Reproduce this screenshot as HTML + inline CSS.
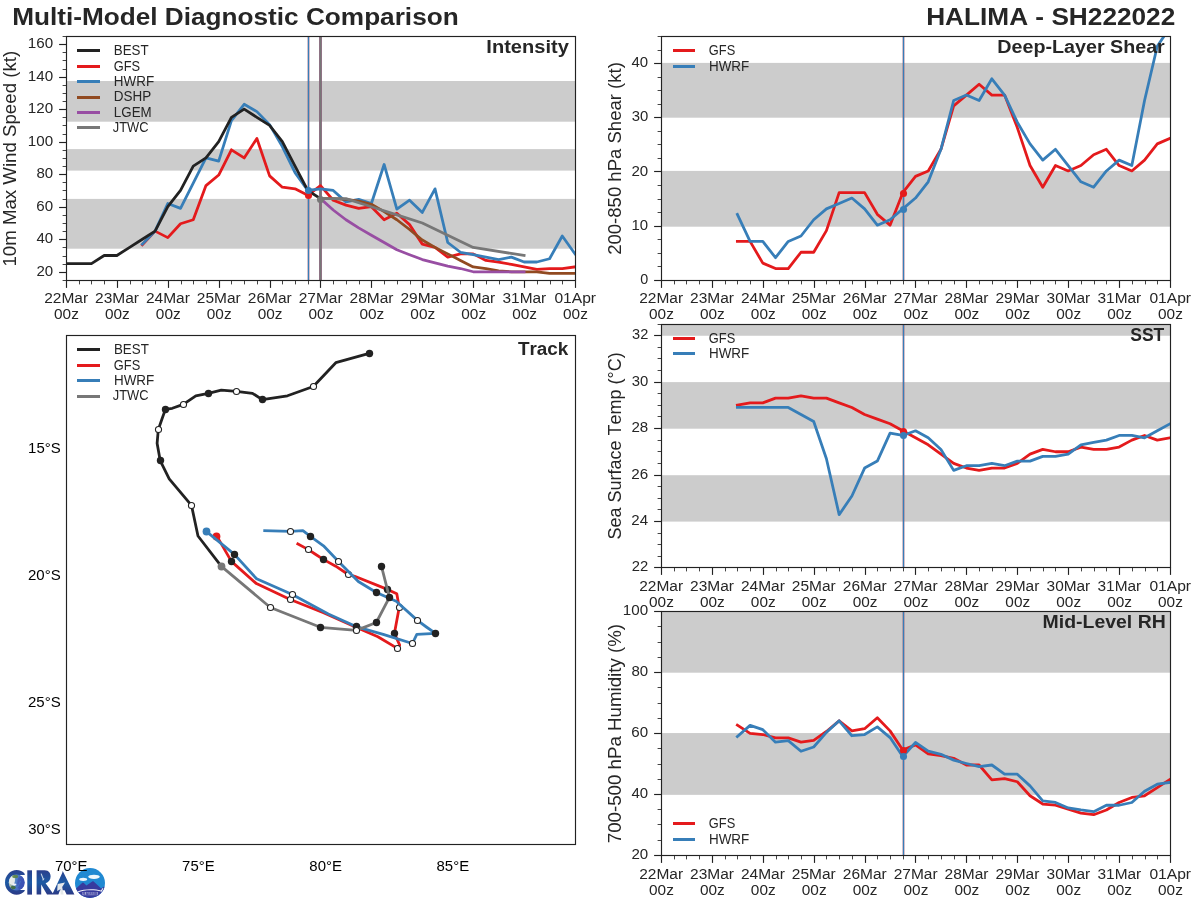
<!DOCTYPE html>
<html><head><meta charset="utf-8"><title>Multi-Model Diagnostic Comparison</title>
<style>html,body{margin:0;padding:0;background:#fff;}svg{display:block;will-change:transform;}text{font-family:"Liberation Sans",sans-serif;font-kerning:none;}</style>
</head><body>
<svg width="1200" height="900" viewBox="0 0 1200 900" font-family="'Liberation Sans', sans-serif">
<rect x="0" y="0" width="1200" height="900" fill="#ffffff"/>
<defs><linearGradient id="lgC" x1="0" y1="0" x2="0" y2="1"><stop offset="0" stop-color="#2a3f8c"/><stop offset="0.5" stop-color="#1c5aa4"/><stop offset="1" stop-color="#2b3a86"/></linearGradient><linearGradient id="lgG" x1="0" y1="0" x2="1" y2="0.25"><stop offset="0" stop-color="#e8ecec"/><stop offset="0.30" stop-color="#9fb59f"/><stop offset="0.52" stop-color="#4f7fc8"/><stop offset="1" stop-color="#3a55b5"/></linearGradient><clipPath id="cpR"><circle cx="90" cy="883" r="15"/></clipPath><clipPath id="cpG"><circle cx="16.7" cy="882.5" r="8.0"/></clipPath></defs>
<g id="logo">
<clipPath id="cpC"><path d="M0 860 H24.7 V874.9 H20 V889.9 H24.7 V900 H0 Z"/></clipPath>
<ellipse cx="16.6" cy="882.4" rx="11.6" ry="12.3" fill="url(#lgC)" clip-path="url(#cpC)"/>
<circle cx="16.7" cy="882.5" r="8.0" fill="url(#lgG)"/>
<g clip-path="url(#cpG)"><ellipse cx="12.0" cy="880.0" rx="3.0" ry="5.0" fill="#eef1ef" opacity="0.9"/><ellipse cx="15.2" cy="876.4" rx="3.0" ry="1.7" fill="#5d8446" opacity="0.9"/><ellipse cx="13.2" cy="887.6" rx="2.6" ry="1.8" fill="#3f6b3c" opacity="0.9"/><ellipse cx="14.4" cy="884.6" rx="2.0" ry="1.1" fill="#ffffff" opacity="0.9"/><path d="M17.6 886.5 L20.2 880.8 L20.9 881.2 L18.3 887.0 Z" fill="#55b4ea" opacity="0.8"/><ellipse cx="21.0" cy="883" rx="3.8" ry="7.0" fill="#3b4db2" opacity="0.6"/></g>
<rect x="27.3" y="870.3" width="4.7" height="24.3" fill="url(#lgC)"/>
<path d="M36.6 870.3 L44.5 870.3 C49.2 870.3 50.6 873.4 50.6 876.6 C50.6 880 48.6 882.3 45.6 883.2 L52.8 893.2 L62.2 873.0 L62.75 871.0 L74.4 894.4 L66.6 894.4 L64.6 890.2 L60.0 890.2 L58.4 894.4 L50.6 894.4 L47.0 894.4 L41.2 884.6 L41.2 894.5 L36.6 894.5 Z" fill="url(#lgC)"/>
<path d="M40.6 873.8 L41.6 873.5 L43.6 878.4 L44.6 878.6 L43.6 880.3 L42.4 880.4 L42.6 879.0 Z" fill="#d9e6ee" opacity="0.9"/>
<path d="M57.6 884.0 L65.0 882.4 L62.2 887.0 L63.6 894.4 L60.6 894.4 L60.4 889.2 L57.2 891.0 Z" fill="#e4e8ea"/>
<circle cx="90" cy="883" r="15" fill="#2089d2"/>
<g clip-path="url(#cpR)"><path d="M74 890.5 L82.6 882.6 L83.6 882.8 L86.4 885.6 L92.6 881.2 L93.4 881.2 L101.2 888.4 L104.2 886.4 L106 889 L106 900 L74 900 Z" fill="#373b9e"/><path d="M77.4 891.6 C84 888.6 95 888.6 101.0 890.6 L102.6 888.0 L103.4 888.4 L101.6 891.8 C95 889.8 84 889.8 78.0 892.4 Z" fill="#ffffff" opacity="0.95"/><rect x="82.2" y="892.0" width="15.6" height="3.2" fill="#ffffff" opacity="0.55"/></g>
<ellipse cx="83.2" cy="879.3" rx="4.0" ry="1.6" fill="#ffffff" opacity="0.93"/>
<ellipse cx="94.0" cy="876.8" rx="5.8" ry="2.1" fill="#ffffff" opacity="0.93"/>
<text x="82.6" y="895.0" font-size="3.6" font-weight="bold" fill="#373b9e" textLength="14.8" lengthAdjust="spacingAndGlyphs">RAMMB</text>
</g>
<text x="12.15" y="24.80" font-size="23.24" textLength="446.56" lengthAdjust="spacingAndGlyphs" fill="#262626" font-weight="bold">Multi-Model Diagnostic Comparison</text>
<text x="926.15" y="24.80" font-size="23.24" textLength="249.15" lengthAdjust="spacingAndGlyphs" fill="#262626" font-weight="bold">HALIMA - SH222022</text>
<clipPath id="c1"><rect x="66.50" y="36.50" width="509.00" height="244.00"/></clipPath>
<rect x="66.50" y="81.00" width="509.00" height="40.70" fill="#cccccc"/>
<rect x="66.50" y="149.10" width="509.00" height="21.50" fill="#cccccc"/>
<rect x="66.50" y="198.90" width="509.00" height="49.80" fill="#cccccc"/>
<line x1="308.50" y1="36.50" x2="308.50" y2="280.50" stroke="#e41a1c" stroke-width="1.4" stroke-linecap="butt"/>
<line x1="308.50" y1="36.50" x2="308.50" y2="280.50" stroke="#377eb8" stroke-width="1.4" stroke-linecap="butt"/>
<line x1="320.50" y1="36.50" x2="320.50" y2="280.50" stroke="#914a21" stroke-width="2.1" stroke-linecap="butt"/>
<line x1="320.50" y1="36.50" x2="320.50" y2="280.50" stroke="#984ea3" stroke-width="2.1" stroke-linecap="butt"/>
<line x1="320.50" y1="36.50" x2="320.50" y2="280.50" stroke="#777777" stroke-width="2.1" stroke-linecap="butt"/>
<polyline points="142.35,244.78 155.07,231.12 167.80,237.62 180.52,223.80 193.25,219.74 205.97,185.59 218.70,175.02 231.42,149.82 244.15,157.95 256.88,138.44 269.60,175.84 282.32,187.22 295.05,188.84 307.77,195.35 320.50,185.59 333.22,200.23 345.95,205.10 358.68,208.36 371.40,206.73 384.12,219.74 396.85,213.23 409.57,224.62 422.30,244.13 435.02,247.38 447.75,257.14 460.47,253.88 473.20,253.88 485.93,260.39 498.65,262.01 511.38,264.45 524.10,266.89 536.83,269.33 549.55,268.52 562.27,268.52 575.00,266.89" fill="none" stroke="#e41a1c" stroke-width="2.78" stroke-linejoin="round" stroke-linecap="square" clip-path="url(#c1)"/>
<polyline points="142.35,244.13 155.07,231.12 167.80,203.48 180.52,208.36 193.25,183.15 205.97,157.95 218.70,161.20 231.42,120.55 244.15,104.29 256.88,111.61 269.60,124.62 282.32,146.57 295.05,172.58 307.77,190.47 320.50,188.84 333.22,190.47 345.95,201.85 358.68,199.41 371.40,203.48 384.12,164.45 396.85,209.17 409.57,200.23 422.30,212.42 435.02,188.84 447.75,242.50 460.47,252.26 473.20,254.70 485.93,257.14 498.65,259.57 511.38,257.14 524.10,262.01 536.83,262.01 549.55,258.76 562.27,236.00 575.00,253.88" fill="none" stroke="#377eb8" stroke-width="2.78" stroke-linejoin="round" stroke-linecap="square" clip-path="url(#c1)"/>
<polyline points="320.50,198.60 333.22,198.60 345.95,199.41 358.68,201.04 371.40,204.29 384.12,211.61 396.85,219.74 409.57,229.49 422.30,240.06 435.02,247.38 447.75,253.88 460.47,260.39 473.20,266.89 485.93,268.52 498.65,270.96 511.38,271.77 524.10,271.77 536.83,271.77 549.55,273.40 562.27,273.40 575.00,273.40" fill="none" stroke="#914a21" stroke-width="2.78" stroke-linejoin="round" stroke-linecap="square" clip-path="url(#c1)"/>
<polyline points="320.50,198.60 333.22,209.98 345.95,219.74 358.68,227.87 371.40,235.18 384.12,242.50 396.85,249.82 409.57,254.70 422.30,259.57 435.02,262.83 447.75,266.08 460.47,268.52 473.20,271.77 485.93,271.77 498.65,271.77 511.38,271.77 524.10,271.77" fill="none" stroke="#984ea3" stroke-width="2.78" stroke-linejoin="round" stroke-linecap="square" clip-path="url(#c1)"/>
<polyline points="320.50,198.60 345.95,198.60 371.40,206.73 396.85,214.86 422.30,222.99 473.20,247.38 524.10,255.51" fill="none" stroke="#777777" stroke-width="2.78" stroke-linejoin="round" stroke-linecap="square" />
<polyline points="66.00,263.64 78.72,263.64 91.45,263.64 104.17,255.51 116.90,255.51 129.62,247.38 142.35,239.25 155.07,231.12 167.80,206.73 180.52,190.47 193.25,166.08 205.97,157.95 218.70,141.69 231.42,117.30 244.15,109.17 256.88,117.30 269.60,125.43 282.32,141.69 295.05,166.08 307.77,190.47 320.50,198.60" fill="none" stroke="#222222" stroke-width="2.78" stroke-linejoin="round" stroke-linecap="square" clip-path="url(#c1)"/>
<circle cx="308.50" cy="195.50" r="3.55" fill="#e41a1c"/>
<circle cx="308.50" cy="190.50" r="3.55" fill="#377eb8"/>
<circle cx="320.50" cy="199.50" r="3.55" fill="#777777"/>
<rect x="66.50" y="36.50" width="509.00" height="244.00" fill="none" stroke="#222222" stroke-width="1.15"/>
<line x1="66.50" y1="280.50" x2="66.50" y2="287.90" stroke="#222222" stroke-width="1.15" stroke-linecap="butt"/>
<text x="44.19" y="303.00" font-size="14.53" textLength="43.90" lengthAdjust="spacingAndGlyphs" fill="#262626">22Mar</text>
<text x="54.07" y="319.00" font-size="14.53" textLength="24.82" lengthAdjust="spacingAndGlyphs" fill="#262626">00z</text>
<line x1="79.50" y1="280.50" x2="79.50" y2="284.40" stroke="#222222" stroke-width="0.85" stroke-linecap="butt"/>
<line x1="91.50" y1="280.50" x2="91.50" y2="284.40" stroke="#222222" stroke-width="0.85" stroke-linecap="butt"/>
<line x1="104.50" y1="280.50" x2="104.50" y2="284.40" stroke="#222222" stroke-width="0.85" stroke-linecap="butt"/>
<line x1="117.50" y1="280.50" x2="117.50" y2="287.90" stroke="#222222" stroke-width="1.15" stroke-linecap="butt"/>
<text x="95.09" y="303.00" font-size="14.53" textLength="43.90" lengthAdjust="spacingAndGlyphs" fill="#262626">23Mar</text>
<text x="104.97" y="319.00" font-size="14.53" textLength="24.82" lengthAdjust="spacingAndGlyphs" fill="#262626">00z</text>
<line x1="130.50" y1="280.50" x2="130.50" y2="284.40" stroke="#222222" stroke-width="0.85" stroke-linecap="butt"/>
<line x1="142.50" y1="280.50" x2="142.50" y2="284.40" stroke="#222222" stroke-width="0.85" stroke-linecap="butt"/>
<line x1="155.50" y1="280.50" x2="155.50" y2="284.40" stroke="#222222" stroke-width="0.85" stroke-linecap="butt"/>
<line x1="168.50" y1="280.50" x2="168.50" y2="287.90" stroke="#222222" stroke-width="1.15" stroke-linecap="butt"/>
<text x="145.99" y="303.00" font-size="14.53" textLength="43.90" lengthAdjust="spacingAndGlyphs" fill="#262626">24Mar</text>
<text x="155.87" y="319.00" font-size="14.53" textLength="24.82" lengthAdjust="spacingAndGlyphs" fill="#262626">00z</text>
<line x1="181.50" y1="280.50" x2="181.50" y2="284.40" stroke="#222222" stroke-width="0.85" stroke-linecap="butt"/>
<line x1="193.50" y1="280.50" x2="193.50" y2="284.40" stroke="#222222" stroke-width="0.85" stroke-linecap="butt"/>
<line x1="206.50" y1="280.50" x2="206.50" y2="284.40" stroke="#222222" stroke-width="0.85" stroke-linecap="butt"/>
<line x1="219.50" y1="280.50" x2="219.50" y2="287.90" stroke="#222222" stroke-width="1.15" stroke-linecap="butt"/>
<text x="196.89" y="303.00" font-size="14.53" textLength="43.90" lengthAdjust="spacingAndGlyphs" fill="#262626">25Mar</text>
<text x="206.77" y="319.00" font-size="14.53" textLength="24.82" lengthAdjust="spacingAndGlyphs" fill="#262626">00z</text>
<line x1="231.50" y1="280.50" x2="231.50" y2="284.40" stroke="#222222" stroke-width="0.85" stroke-linecap="butt"/>
<line x1="244.50" y1="280.50" x2="244.50" y2="284.40" stroke="#222222" stroke-width="0.85" stroke-linecap="butt"/>
<line x1="257.50" y1="280.50" x2="257.50" y2="284.40" stroke="#222222" stroke-width="0.85" stroke-linecap="butt"/>
<line x1="270.50" y1="280.50" x2="270.50" y2="287.90" stroke="#222222" stroke-width="1.15" stroke-linecap="butt"/>
<text x="247.79" y="303.00" font-size="14.53" textLength="43.90" lengthAdjust="spacingAndGlyphs" fill="#262626">26Mar</text>
<text x="257.67" y="319.00" font-size="14.53" textLength="24.82" lengthAdjust="spacingAndGlyphs" fill="#262626">00z</text>
<line x1="282.50" y1="280.50" x2="282.50" y2="284.40" stroke="#222222" stroke-width="0.85" stroke-linecap="butt"/>
<line x1="295.50" y1="280.50" x2="295.50" y2="284.40" stroke="#222222" stroke-width="0.85" stroke-linecap="butt"/>
<line x1="308.50" y1="280.50" x2="308.50" y2="284.40" stroke="#222222" stroke-width="0.85" stroke-linecap="butt"/>
<line x1="320.50" y1="280.50" x2="320.50" y2="287.90" stroke="#222222" stroke-width="1.15" stroke-linecap="butt"/>
<text x="298.69" y="303.00" font-size="14.53" textLength="43.90" lengthAdjust="spacingAndGlyphs" fill="#262626">27Mar</text>
<text x="308.57" y="319.00" font-size="14.53" textLength="24.82" lengthAdjust="spacingAndGlyphs" fill="#262626">00z</text>
<line x1="333.50" y1="280.50" x2="333.50" y2="284.40" stroke="#222222" stroke-width="0.85" stroke-linecap="butt"/>
<line x1="346.50" y1="280.50" x2="346.50" y2="284.40" stroke="#222222" stroke-width="0.85" stroke-linecap="butt"/>
<line x1="359.50" y1="280.50" x2="359.50" y2="284.40" stroke="#222222" stroke-width="0.85" stroke-linecap="butt"/>
<line x1="371.50" y1="280.50" x2="371.50" y2="287.90" stroke="#222222" stroke-width="1.15" stroke-linecap="butt"/>
<text x="349.59" y="303.00" font-size="14.53" textLength="43.90" lengthAdjust="spacingAndGlyphs" fill="#262626">28Mar</text>
<text x="359.47" y="319.00" font-size="14.53" textLength="24.82" lengthAdjust="spacingAndGlyphs" fill="#262626">00z</text>
<line x1="384.50" y1="280.50" x2="384.50" y2="284.40" stroke="#222222" stroke-width="0.85" stroke-linecap="butt"/>
<line x1="397.50" y1="280.50" x2="397.50" y2="284.40" stroke="#222222" stroke-width="0.85" stroke-linecap="butt"/>
<line x1="410.50" y1="280.50" x2="410.50" y2="284.40" stroke="#222222" stroke-width="0.85" stroke-linecap="butt"/>
<line x1="422.50" y1="280.50" x2="422.50" y2="287.90" stroke="#222222" stroke-width="1.15" stroke-linecap="butt"/>
<text x="400.49" y="303.00" font-size="14.53" textLength="43.90" lengthAdjust="spacingAndGlyphs" fill="#262626">29Mar</text>
<text x="410.37" y="319.00" font-size="14.53" textLength="24.82" lengthAdjust="spacingAndGlyphs" fill="#262626">00z</text>
<line x1="435.50" y1="280.50" x2="435.50" y2="284.40" stroke="#222222" stroke-width="0.85" stroke-linecap="butt"/>
<line x1="448.50" y1="280.50" x2="448.50" y2="284.40" stroke="#222222" stroke-width="0.85" stroke-linecap="butt"/>
<line x1="460.50" y1="280.50" x2="460.50" y2="284.40" stroke="#222222" stroke-width="0.85" stroke-linecap="butt"/>
<line x1="473.50" y1="280.50" x2="473.50" y2="287.90" stroke="#222222" stroke-width="1.15" stroke-linecap="butt"/>
<text x="451.60" y="303.00" font-size="14.53" textLength="43.67" lengthAdjust="spacingAndGlyphs" fill="#262626">30Mar</text>
<text x="461.27" y="319.00" font-size="14.53" textLength="24.82" lengthAdjust="spacingAndGlyphs" fill="#262626">00z</text>
<line x1="486.50" y1="280.50" x2="486.50" y2="284.40" stroke="#222222" stroke-width="0.85" stroke-linecap="butt"/>
<line x1="499.50" y1="280.50" x2="499.50" y2="284.40" stroke="#222222" stroke-width="0.85" stroke-linecap="butt"/>
<line x1="511.50" y1="280.50" x2="511.50" y2="284.40" stroke="#222222" stroke-width="0.85" stroke-linecap="butt"/>
<line x1="524.50" y1="280.50" x2="524.50" y2="287.90" stroke="#222222" stroke-width="1.15" stroke-linecap="butt"/>
<text x="502.50" y="303.00" font-size="14.53" textLength="43.67" lengthAdjust="spacingAndGlyphs" fill="#262626">31Mar</text>
<text x="512.17" y="319.00" font-size="14.53" textLength="24.82" lengthAdjust="spacingAndGlyphs" fill="#262626">00z</text>
<line x1="537.50" y1="280.50" x2="537.50" y2="284.40" stroke="#222222" stroke-width="0.85" stroke-linecap="butt"/>
<line x1="550.50" y1="280.50" x2="550.50" y2="284.40" stroke="#222222" stroke-width="0.85" stroke-linecap="butt"/>
<line x1="562.50" y1="280.50" x2="562.50" y2="284.40" stroke="#222222" stroke-width="0.85" stroke-linecap="butt"/>
<line x1="575.50" y1="280.50" x2="575.50" y2="287.90" stroke="#222222" stroke-width="1.15" stroke-linecap="butt"/>
<text x="554.40" y="303.00" font-size="14.53" textLength="41.66" lengthAdjust="spacingAndGlyphs" fill="#262626">01Apr</text>
<text x="563.07" y="319.00" font-size="14.53" textLength="24.82" lengthAdjust="spacingAndGlyphs" fill="#262626">00z</text>
<line x1="62.60" y1="280.50" x2="66.50" y2="280.50" stroke="#222222" stroke-width="0.85" stroke-linecap="butt"/>
<line x1="62.60" y1="272.50" x2="66.50" y2="272.50" stroke="#222222" stroke-width="0.85" stroke-linecap="butt"/>
<line x1="62.60" y1="264.50" x2="66.50" y2="264.50" stroke="#222222" stroke-width="0.85" stroke-linecap="butt"/>
<line x1="62.60" y1="256.50" x2="66.50" y2="256.50" stroke="#222222" stroke-width="0.85" stroke-linecap="butt"/>
<line x1="62.60" y1="247.50" x2="66.50" y2="247.50" stroke="#222222" stroke-width="0.85" stroke-linecap="butt"/>
<line x1="62.60" y1="239.50" x2="66.50" y2="239.50" stroke="#222222" stroke-width="0.85" stroke-linecap="butt"/>
<line x1="62.60" y1="231.50" x2="66.50" y2="231.50" stroke="#222222" stroke-width="0.85" stroke-linecap="butt"/>
<line x1="62.60" y1="223.50" x2="66.50" y2="223.50" stroke="#222222" stroke-width="0.85" stroke-linecap="butt"/>
<line x1="62.60" y1="215.50" x2="66.50" y2="215.50" stroke="#222222" stroke-width="0.85" stroke-linecap="butt"/>
<line x1="62.60" y1="207.50" x2="66.50" y2="207.50" stroke="#222222" stroke-width="0.85" stroke-linecap="butt"/>
<line x1="62.60" y1="199.50" x2="66.50" y2="199.50" stroke="#222222" stroke-width="0.85" stroke-linecap="butt"/>
<line x1="62.60" y1="190.50" x2="66.50" y2="190.50" stroke="#222222" stroke-width="0.85" stroke-linecap="butt"/>
<line x1="62.60" y1="182.50" x2="66.50" y2="182.50" stroke="#222222" stroke-width="0.85" stroke-linecap="butt"/>
<line x1="62.60" y1="174.50" x2="66.50" y2="174.50" stroke="#222222" stroke-width="0.85" stroke-linecap="butt"/>
<line x1="62.60" y1="166.50" x2="66.50" y2="166.50" stroke="#222222" stroke-width="0.85" stroke-linecap="butt"/>
<line x1="62.60" y1="158.50" x2="66.50" y2="158.50" stroke="#222222" stroke-width="0.85" stroke-linecap="butt"/>
<line x1="62.60" y1="150.50" x2="66.50" y2="150.50" stroke="#222222" stroke-width="0.85" stroke-linecap="butt"/>
<line x1="62.60" y1="142.50" x2="66.50" y2="142.50" stroke="#222222" stroke-width="0.85" stroke-linecap="butt"/>
<line x1="62.60" y1="134.50" x2="66.50" y2="134.50" stroke="#222222" stroke-width="0.85" stroke-linecap="butt"/>
<line x1="62.60" y1="125.50" x2="66.50" y2="125.50" stroke="#222222" stroke-width="0.85" stroke-linecap="butt"/>
<line x1="62.60" y1="117.50" x2="66.50" y2="117.50" stroke="#222222" stroke-width="0.85" stroke-linecap="butt"/>
<line x1="62.60" y1="109.50" x2="66.50" y2="109.50" stroke="#222222" stroke-width="0.85" stroke-linecap="butt"/>
<line x1="62.60" y1="101.50" x2="66.50" y2="101.50" stroke="#222222" stroke-width="0.85" stroke-linecap="butt"/>
<line x1="62.60" y1="93.50" x2="66.50" y2="93.50" stroke="#222222" stroke-width="0.85" stroke-linecap="butt"/>
<line x1="62.60" y1="85.50" x2="66.50" y2="85.50" stroke="#222222" stroke-width="0.85" stroke-linecap="butt"/>
<line x1="62.60" y1="77.50" x2="66.50" y2="77.50" stroke="#222222" stroke-width="0.85" stroke-linecap="butt"/>
<line x1="62.60" y1="69.50" x2="66.50" y2="69.50" stroke="#222222" stroke-width="0.85" stroke-linecap="butt"/>
<line x1="62.60" y1="60.50" x2="66.50" y2="60.50" stroke="#222222" stroke-width="0.85" stroke-linecap="butt"/>
<line x1="62.60" y1="52.50" x2="66.50" y2="52.50" stroke="#222222" stroke-width="0.85" stroke-linecap="butt"/>
<line x1="62.60" y1="44.50" x2="66.50" y2="44.50" stroke="#222222" stroke-width="0.85" stroke-linecap="butt"/>
<line x1="62.60" y1="36.50" x2="66.50" y2="36.50" stroke="#222222" stroke-width="0.85" stroke-linecap="butt"/>
<line x1="59.10" y1="272.50" x2="66.50" y2="272.50" stroke="#222222" stroke-width="1.15" stroke-linecap="butt"/>
<text x="36.42" y="275.77" font-size="14.53" textLength="16.77" lengthAdjust="spacingAndGlyphs" fill="#262626">20</text>
<line x1="59.10" y1="239.50" x2="66.50" y2="239.50" stroke="#222222" stroke-width="1.15" stroke-linecap="butt"/>
<text x="36.50" y="243.25" font-size="14.53" textLength="16.68" lengthAdjust="spacingAndGlyphs" fill="#262626">40</text>
<line x1="59.10" y1="207.50" x2="66.50" y2="207.50" stroke="#222222" stroke-width="1.15" stroke-linecap="butt"/>
<text x="36.37" y="210.73" font-size="14.53" textLength="16.83" lengthAdjust="spacingAndGlyphs" fill="#262626">60</text>
<line x1="59.10" y1="174.50" x2="66.50" y2="174.50" stroke="#222222" stroke-width="1.15" stroke-linecap="butt"/>
<text x="36.45" y="178.21" font-size="14.53" textLength="16.73" lengthAdjust="spacingAndGlyphs" fill="#262626">80</text>
<line x1="59.10" y1="142.50" x2="66.50" y2="142.50" stroke="#222222" stroke-width="1.15" stroke-linecap="butt"/>
<text x="27.86" y="145.69" font-size="14.53" textLength="25.33" lengthAdjust="spacingAndGlyphs" fill="#262626">100</text>
<line x1="59.10" y1="109.50" x2="66.50" y2="109.50" stroke="#222222" stroke-width="1.15" stroke-linecap="butt"/>
<text x="27.86" y="113.17" font-size="14.53" textLength="25.33" lengthAdjust="spacingAndGlyphs" fill="#262626">120</text>
<line x1="59.10" y1="77.50" x2="66.50" y2="77.50" stroke="#222222" stroke-width="1.15" stroke-linecap="butt"/>
<text x="27.86" y="80.65" font-size="14.53" textLength="25.33" lengthAdjust="spacingAndGlyphs" fill="#262626">140</text>
<line x1="59.10" y1="44.50" x2="66.50" y2="44.50" stroke="#222222" stroke-width="1.15" stroke-linecap="butt"/>
<text x="27.86" y="48.13" font-size="14.53" textLength="25.33" lengthAdjust="spacingAndGlyphs" fill="#262626">160</text>
<line x1="77.00" y1="50.50" x2="100.00" y2="50.50" stroke="#222222" stroke-width="3.0" stroke-linecap="butt"/>
<text x="113.84" y="54.75" font-size="14.17" textLength="34.85" lengthAdjust="spacingAndGlyphs" fill="#262626">BEST</text>
<line x1="77.00" y1="66.50" x2="100.00" y2="66.50" stroke="#e41a1c" stroke-width="3.0" stroke-linecap="butt"/>
<text x="113.72" y="70.50" font-size="14.17" textLength="26.38" lengthAdjust="spacingAndGlyphs" fill="#262626">GFS</text>
<line x1="77.00" y1="81.50" x2="100.00" y2="81.50" stroke="#377eb8" stroke-width="3.0" stroke-linecap="butt"/>
<text x="113.83" y="85.75" font-size="14.17" textLength="40.32" lengthAdjust="spacingAndGlyphs" fill="#262626">HWRF</text>
<line x1="77.00" y1="97.50" x2="100.00" y2="97.50" stroke="#914a21" stroke-width="3.0" stroke-linecap="butt"/>
<text x="113.83" y="101.25" font-size="14.17" textLength="37.42" lengthAdjust="spacingAndGlyphs" fill="#262626">DSHP</text>
<line x1="77.00" y1="112.50" x2="100.00" y2="112.50" stroke="#984ea3" stroke-width="3.0" stroke-linecap="butt"/>
<text x="113.83" y="116.75" font-size="14.17" textLength="37.84" lengthAdjust="spacingAndGlyphs" fill="#262626">LGEM</text>
<line x1="77.00" y1="127.50" x2="100.00" y2="127.50" stroke="#777777" stroke-width="3.0" stroke-linecap="butt"/>
<text x="112.70" y="131.75" font-size="14.17" textLength="35.79" lengthAdjust="spacingAndGlyphs" fill="#262626">JTWC</text>
<text x="486.37" y="52.90" font-size="17.44" textLength="82.48" lengthAdjust="spacingAndGlyphs" fill="#262626" font-weight="bold">Intensity</text>
<text transform="translate(15.60 158.60) rotate(-90)" x="-108.02" y="0" font-size="17.44" textLength="215.77" lengthAdjust="spacingAndGlyphs" fill="#262626">10m Max Wind Speed (kt)</text>
<clipPath id="c2"><rect x="661.50" y="36.50" width="509.00" height="244.00"/></clipPath>
<rect x="661.50" y="170.90" width="509.00" height="55.80" fill="#cccccc"/>
<rect x="661.50" y="62.90" width="509.00" height="54.80" fill="#cccccc"/>
<line x1="903.50" y1="36.50" x2="903.50" y2="280.50" stroke="#e41a1c" stroke-width="1.4" stroke-linecap="butt"/>
<line x1="903.50" y1="36.50" x2="903.50" y2="280.50" stroke="#377eb8" stroke-width="1.4" stroke-linecap="butt"/>
<polyline points="737.35,241.42 750.08,241.42 762.80,263.10 775.52,268.52 788.25,268.52 800.98,252.26 813.70,252.26 826.42,230.58 839.15,192.64 851.88,192.64 864.60,192.64 877.33,214.32 890.05,225.16 902.77,192.64 915.50,176.38 928.22,170.96 940.95,149.28 953.67,105.92 966.40,95.08 979.12,84.24 991.85,95.08 1004.58,95.08 1017.30,127.60 1030.03,165.54 1042.75,187.22 1055.47,165.54 1068.20,170.96 1080.92,165.54 1093.65,154.70 1106.38,149.28 1119.10,165.54 1131.83,170.96 1144.55,160.12 1157.28,143.86 1170.00,138.44" fill="none" stroke="#e41a1c" stroke-width="2.78" stroke-linejoin="round" stroke-linecap="square" clip-path="url(#c2)"/>
<polyline points="737.35,214.32 750.08,241.42 762.80,241.42 775.52,257.68 788.25,241.42 800.98,236.00 813.70,219.74 826.42,208.90 839.15,203.48 851.88,198.06 864.60,208.90 877.33,225.16 890.05,219.74 902.77,208.90 915.50,198.06 928.22,181.80 940.95,149.28 953.67,100.50 966.40,95.08 979.12,100.50 991.85,78.82 1004.58,95.08 1017.30,122.18 1030.03,143.86 1042.75,160.12 1055.47,149.28 1068.20,165.54 1080.92,181.80 1093.65,187.22 1106.38,170.96 1119.10,160.12 1131.83,165.54 1144.55,100.50 1157.28,46.30 1170.00,27.33" fill="none" stroke="#377eb8" stroke-width="2.78" stroke-linejoin="round" stroke-linecap="square" clip-path="url(#c2)"/>
<circle cx="903.50" cy="193.50" r="3.55" fill="#e41a1c"/>
<circle cx="903.50" cy="209.50" r="3.55" fill="#377eb8"/>
<rect x="661.50" y="36.50" width="509.00" height="244.00" fill="none" stroke="#222222" stroke-width="1.15"/>
<line x1="661.50" y1="280.50" x2="661.50" y2="287.90" stroke="#222222" stroke-width="1.15" stroke-linecap="butt"/>
<text x="639.19" y="303.00" font-size="14.53" textLength="43.90" lengthAdjust="spacingAndGlyphs" fill="#262626">22Mar</text>
<text x="649.07" y="319.00" font-size="14.53" textLength="24.82" lengthAdjust="spacingAndGlyphs" fill="#262626">00z</text>
<line x1="674.50" y1="280.50" x2="674.50" y2="284.40" stroke="#222222" stroke-width="0.85" stroke-linecap="butt"/>
<line x1="686.50" y1="280.50" x2="686.50" y2="284.40" stroke="#222222" stroke-width="0.85" stroke-linecap="butt"/>
<line x1="699.50" y1="280.50" x2="699.50" y2="284.40" stroke="#222222" stroke-width="0.85" stroke-linecap="butt"/>
<line x1="712.50" y1="280.50" x2="712.50" y2="287.90" stroke="#222222" stroke-width="1.15" stroke-linecap="butt"/>
<text x="690.09" y="303.00" font-size="14.53" textLength="43.90" lengthAdjust="spacingAndGlyphs" fill="#262626">23Mar</text>
<text x="699.97" y="319.00" font-size="14.53" textLength="24.82" lengthAdjust="spacingAndGlyphs" fill="#262626">00z</text>
<line x1="725.50" y1="280.50" x2="725.50" y2="284.40" stroke="#222222" stroke-width="0.85" stroke-linecap="butt"/>
<line x1="737.50" y1="280.50" x2="737.50" y2="284.40" stroke="#222222" stroke-width="0.85" stroke-linecap="butt"/>
<line x1="750.50" y1="280.50" x2="750.50" y2="284.40" stroke="#222222" stroke-width="0.85" stroke-linecap="butt"/>
<line x1="763.50" y1="280.50" x2="763.50" y2="287.90" stroke="#222222" stroke-width="1.15" stroke-linecap="butt"/>
<text x="740.99" y="303.00" font-size="14.53" textLength="43.90" lengthAdjust="spacingAndGlyphs" fill="#262626">24Mar</text>
<text x="750.87" y="319.00" font-size="14.53" textLength="24.82" lengthAdjust="spacingAndGlyphs" fill="#262626">00z</text>
<line x1="776.50" y1="280.50" x2="776.50" y2="284.40" stroke="#222222" stroke-width="0.85" stroke-linecap="butt"/>
<line x1="788.50" y1="280.50" x2="788.50" y2="284.40" stroke="#222222" stroke-width="0.85" stroke-linecap="butt"/>
<line x1="801.50" y1="280.50" x2="801.50" y2="284.40" stroke="#222222" stroke-width="0.85" stroke-linecap="butt"/>
<line x1="814.50" y1="280.50" x2="814.50" y2="287.90" stroke="#222222" stroke-width="1.15" stroke-linecap="butt"/>
<text x="791.89" y="303.00" font-size="14.53" textLength="43.90" lengthAdjust="spacingAndGlyphs" fill="#262626">25Mar</text>
<text x="801.77" y="319.00" font-size="14.53" textLength="24.82" lengthAdjust="spacingAndGlyphs" fill="#262626">00z</text>
<line x1="826.50" y1="280.50" x2="826.50" y2="284.40" stroke="#222222" stroke-width="0.85" stroke-linecap="butt"/>
<line x1="839.50" y1="280.50" x2="839.50" y2="284.40" stroke="#222222" stroke-width="0.85" stroke-linecap="butt"/>
<line x1="852.50" y1="280.50" x2="852.50" y2="284.40" stroke="#222222" stroke-width="0.85" stroke-linecap="butt"/>
<line x1="865.50" y1="280.50" x2="865.50" y2="287.90" stroke="#222222" stroke-width="1.15" stroke-linecap="butt"/>
<text x="842.79" y="303.00" font-size="14.53" textLength="43.90" lengthAdjust="spacingAndGlyphs" fill="#262626">26Mar</text>
<text x="852.67" y="319.00" font-size="14.53" textLength="24.82" lengthAdjust="spacingAndGlyphs" fill="#262626">00z</text>
<line x1="877.50" y1="280.50" x2="877.50" y2="284.40" stroke="#222222" stroke-width="0.85" stroke-linecap="butt"/>
<line x1="890.50" y1="280.50" x2="890.50" y2="284.40" stroke="#222222" stroke-width="0.85" stroke-linecap="butt"/>
<line x1="903.50" y1="280.50" x2="903.50" y2="284.40" stroke="#222222" stroke-width="0.85" stroke-linecap="butt"/>
<line x1="915.50" y1="280.50" x2="915.50" y2="287.90" stroke="#222222" stroke-width="1.15" stroke-linecap="butt"/>
<text x="893.69" y="303.00" font-size="14.53" textLength="43.90" lengthAdjust="spacingAndGlyphs" fill="#262626">27Mar</text>
<text x="903.57" y="319.00" font-size="14.53" textLength="24.82" lengthAdjust="spacingAndGlyphs" fill="#262626">00z</text>
<line x1="928.50" y1="280.50" x2="928.50" y2="284.40" stroke="#222222" stroke-width="0.85" stroke-linecap="butt"/>
<line x1="941.50" y1="280.50" x2="941.50" y2="284.40" stroke="#222222" stroke-width="0.85" stroke-linecap="butt"/>
<line x1="954.50" y1="280.50" x2="954.50" y2="284.40" stroke="#222222" stroke-width="0.85" stroke-linecap="butt"/>
<line x1="966.50" y1="280.50" x2="966.50" y2="287.90" stroke="#222222" stroke-width="1.15" stroke-linecap="butt"/>
<text x="944.59" y="303.00" font-size="14.53" textLength="43.90" lengthAdjust="spacingAndGlyphs" fill="#262626">28Mar</text>
<text x="954.47" y="319.00" font-size="14.53" textLength="24.82" lengthAdjust="spacingAndGlyphs" fill="#262626">00z</text>
<line x1="979.50" y1="280.50" x2="979.50" y2="284.40" stroke="#222222" stroke-width="0.85" stroke-linecap="butt"/>
<line x1="992.50" y1="280.50" x2="992.50" y2="284.40" stroke="#222222" stroke-width="0.85" stroke-linecap="butt"/>
<line x1="1005.50" y1="280.50" x2="1005.50" y2="284.40" stroke="#222222" stroke-width="0.85" stroke-linecap="butt"/>
<line x1="1017.50" y1="280.50" x2="1017.50" y2="287.90" stroke="#222222" stroke-width="1.15" stroke-linecap="butt"/>
<text x="995.49" y="303.00" font-size="14.53" textLength="43.90" lengthAdjust="spacingAndGlyphs" fill="#262626">29Mar</text>
<text x="1005.37" y="319.00" font-size="14.53" textLength="24.82" lengthAdjust="spacingAndGlyphs" fill="#262626">00z</text>
<line x1="1030.50" y1="280.50" x2="1030.50" y2="284.40" stroke="#222222" stroke-width="0.85" stroke-linecap="butt"/>
<line x1="1043.50" y1="280.50" x2="1043.50" y2="284.40" stroke="#222222" stroke-width="0.85" stroke-linecap="butt"/>
<line x1="1055.50" y1="280.50" x2="1055.50" y2="284.40" stroke="#222222" stroke-width="0.85" stroke-linecap="butt"/>
<line x1="1068.50" y1="280.50" x2="1068.50" y2="287.90" stroke="#222222" stroke-width="1.15" stroke-linecap="butt"/>
<text x="1046.60" y="303.00" font-size="14.53" textLength="43.67" lengthAdjust="spacingAndGlyphs" fill="#262626">30Mar</text>
<text x="1056.27" y="319.00" font-size="14.53" textLength="24.82" lengthAdjust="spacingAndGlyphs" fill="#262626">00z</text>
<line x1="1081.50" y1="280.50" x2="1081.50" y2="284.40" stroke="#222222" stroke-width="0.85" stroke-linecap="butt"/>
<line x1="1094.50" y1="280.50" x2="1094.50" y2="284.40" stroke="#222222" stroke-width="0.85" stroke-linecap="butt"/>
<line x1="1106.50" y1="280.50" x2="1106.50" y2="284.40" stroke="#222222" stroke-width="0.85" stroke-linecap="butt"/>
<line x1="1119.50" y1="280.50" x2="1119.50" y2="287.90" stroke="#222222" stroke-width="1.15" stroke-linecap="butt"/>
<text x="1097.50" y="303.00" font-size="14.53" textLength="43.67" lengthAdjust="spacingAndGlyphs" fill="#262626">31Mar</text>
<text x="1107.17" y="319.00" font-size="14.53" textLength="24.82" lengthAdjust="spacingAndGlyphs" fill="#262626">00z</text>
<line x1="1132.50" y1="280.50" x2="1132.50" y2="284.40" stroke="#222222" stroke-width="0.85" stroke-linecap="butt"/>
<line x1="1145.50" y1="280.50" x2="1145.50" y2="284.40" stroke="#222222" stroke-width="0.85" stroke-linecap="butt"/>
<line x1="1157.50" y1="280.50" x2="1157.50" y2="284.40" stroke="#222222" stroke-width="0.85" stroke-linecap="butt"/>
<line x1="1170.50" y1="280.50" x2="1170.50" y2="287.90" stroke="#222222" stroke-width="1.15" stroke-linecap="butt"/>
<text x="1149.40" y="303.00" font-size="14.53" textLength="41.66" lengthAdjust="spacingAndGlyphs" fill="#262626">01Apr</text>
<text x="1158.07" y="319.00" font-size="14.53" textLength="24.82" lengthAdjust="spacingAndGlyphs" fill="#262626">00z</text>
<line x1="657.60" y1="280.50" x2="661.50" y2="280.50" stroke="#222222" stroke-width="0.85" stroke-linecap="butt"/>
<line x1="657.60" y1="266.50" x2="661.50" y2="266.50" stroke="#222222" stroke-width="0.85" stroke-linecap="butt"/>
<line x1="657.60" y1="253.50" x2="661.50" y2="253.50" stroke="#222222" stroke-width="0.85" stroke-linecap="butt"/>
<line x1="657.60" y1="239.50" x2="661.50" y2="239.50" stroke="#222222" stroke-width="0.85" stroke-linecap="butt"/>
<line x1="657.60" y1="226.50" x2="661.50" y2="226.50" stroke="#222222" stroke-width="0.85" stroke-linecap="butt"/>
<line x1="657.60" y1="212.50" x2="661.50" y2="212.50" stroke="#222222" stroke-width="0.85" stroke-linecap="butt"/>
<line x1="657.60" y1="199.50" x2="661.50" y2="199.50" stroke="#222222" stroke-width="0.85" stroke-linecap="butt"/>
<line x1="657.60" y1="185.50" x2="661.50" y2="185.50" stroke="#222222" stroke-width="0.85" stroke-linecap="butt"/>
<line x1="657.60" y1="171.50" x2="661.50" y2="171.50" stroke="#222222" stroke-width="0.85" stroke-linecap="butt"/>
<line x1="657.60" y1="158.50" x2="661.50" y2="158.50" stroke="#222222" stroke-width="0.85" stroke-linecap="butt"/>
<line x1="657.60" y1="144.50" x2="661.50" y2="144.50" stroke="#222222" stroke-width="0.85" stroke-linecap="butt"/>
<line x1="657.60" y1="131.50" x2="661.50" y2="131.50" stroke="#222222" stroke-width="0.85" stroke-linecap="butt"/>
<line x1="657.60" y1="117.50" x2="661.50" y2="117.50" stroke="#222222" stroke-width="0.85" stroke-linecap="butt"/>
<line x1="657.60" y1="104.50" x2="661.50" y2="104.50" stroke="#222222" stroke-width="0.85" stroke-linecap="butt"/>
<line x1="657.60" y1="90.50" x2="661.50" y2="90.50" stroke="#222222" stroke-width="0.85" stroke-linecap="butt"/>
<line x1="657.60" y1="77.50" x2="661.50" y2="77.50" stroke="#222222" stroke-width="0.85" stroke-linecap="butt"/>
<line x1="657.60" y1="63.50" x2="661.50" y2="63.50" stroke="#222222" stroke-width="0.85" stroke-linecap="butt"/>
<line x1="657.60" y1="50.50" x2="661.50" y2="50.50" stroke="#222222" stroke-width="0.85" stroke-linecap="butt"/>
<line x1="657.60" y1="36.50" x2="661.50" y2="36.50" stroke="#222222" stroke-width="0.85" stroke-linecap="butt"/>
<line x1="654.10" y1="280.50" x2="661.50" y2="280.50" stroke="#222222" stroke-width="1.15" stroke-linecap="butt"/>
<text x="640.18" y="283.90" font-size="14.53" textLength="7.98" lengthAdjust="spacingAndGlyphs" fill="#262626">0</text>
<line x1="654.10" y1="226.50" x2="661.50" y2="226.50" stroke="#222222" stroke-width="1.15" stroke-linecap="butt"/>
<text x="631.54" y="229.70" font-size="14.53" textLength="16.65" lengthAdjust="spacingAndGlyphs" fill="#262626">10</text>
<line x1="654.10" y1="171.50" x2="661.50" y2="171.50" stroke="#222222" stroke-width="1.15" stroke-linecap="butt"/>
<text x="631.42" y="175.50" font-size="14.53" textLength="16.77" lengthAdjust="spacingAndGlyphs" fill="#262626">20</text>
<line x1="654.10" y1="117.50" x2="661.50" y2="117.50" stroke="#222222" stroke-width="1.15" stroke-linecap="butt"/>
<text x="631.65" y="121.30" font-size="14.53" textLength="16.53" lengthAdjust="spacingAndGlyphs" fill="#262626">30</text>
<line x1="654.10" y1="63.50" x2="661.50" y2="63.50" stroke="#222222" stroke-width="1.15" stroke-linecap="butt"/>
<text x="631.50" y="67.10" font-size="14.53" textLength="16.68" lengthAdjust="spacingAndGlyphs" fill="#262626">40</text>
<line x1="673.00" y1="50.50" x2="695.00" y2="50.50" stroke="#e41a1c" stroke-width="3.0" stroke-linecap="butt"/>
<text x="708.82" y="54.75" font-size="14.17" textLength="26.38" lengthAdjust="spacingAndGlyphs" fill="#262626">GFS</text>
<line x1="673.00" y1="66.50" x2="695.00" y2="66.50" stroke="#377eb8" stroke-width="3.0" stroke-linecap="butt"/>
<text x="708.93" y="70.50" font-size="14.17" textLength="40.32" lengthAdjust="spacingAndGlyphs" fill="#262626">HWRF</text>
<text x="997.26" y="52.90" font-size="17.44" textLength="167.54" lengthAdjust="spacingAndGlyphs" fill="#262626" font-weight="bold">Deep-Layer Shear</text>
<text transform="translate(620.50 158.60) rotate(-90)" x="-96.26" y="0" font-size="17.44" textLength="192.73" lengthAdjust="spacingAndGlyphs" fill="#262626">200-850 hPa Shear (kt)</text>
<clipPath id="c3"><rect x="661.50" y="324.50" width="509.00" height="243.00"/></clipPath>
<rect x="661.50" y="475.20" width="509.00" height="46.40" fill="#cccccc"/>
<rect x="661.50" y="382.10" width="509.00" height="46.60" fill="#cccccc"/>
<rect x="661.50" y="324.50" width="509.00" height="11.25" fill="#cccccc"/>
<line x1="903.50" y1="324.50" x2="903.50" y2="567.50" stroke="#e41a1c" stroke-width="1.4" stroke-linecap="butt"/>
<line x1="903.50" y1="324.50" x2="903.50" y2="567.50" stroke="#377eb8" stroke-width="1.4" stroke-linecap="butt"/>
<polyline points="737.35,405.15 750.08,402.82 762.80,402.82 775.52,398.16 788.25,398.16 800.98,395.83 813.70,398.16 826.42,398.16 839.15,402.82 851.88,407.48 864.60,414.47 877.33,419.13 890.05,423.79 902.77,430.78 915.50,437.77 928.22,444.76 940.95,454.08 953.67,463.40 966.40,468.06 979.12,470.39 991.85,468.06 1004.58,468.06 1017.30,463.40 1030.03,454.08 1042.75,449.42 1055.47,451.75 1068.20,451.75 1080.92,447.09 1093.65,449.42 1106.38,449.42 1119.10,447.09 1131.83,440.10 1144.55,435.44 1157.28,440.10 1170.00,437.77" fill="none" stroke="#e41a1c" stroke-width="2.78" stroke-linejoin="round" stroke-linecap="square" clip-path="url(#c3)"/>
<polyline points="737.35,407.48 750.08,407.48 762.80,407.48 775.52,407.48 788.25,407.48 800.98,414.47 813.70,421.46 826.42,458.74 839.15,514.66 851.88,496.02 864.60,468.06 877.33,461.07 890.05,433.11 902.77,435.44 915.50,430.78 928.22,437.77 940.95,449.42 953.67,470.39 966.40,465.73 979.12,465.73 991.85,463.40 1004.58,465.73 1017.30,461.07 1030.03,461.07 1042.75,456.41 1055.47,456.41 1068.20,454.08 1080.92,444.76 1093.65,442.43 1106.38,440.10 1119.10,435.44 1131.83,435.44 1144.55,437.77 1157.28,430.78 1170.00,423.79" fill="none" stroke="#377eb8" stroke-width="2.78" stroke-linejoin="round" stroke-linecap="square" clip-path="url(#c3)"/>
<circle cx="903.50" cy="431.50" r="3.55" fill="#e41a1c"/>
<circle cx="903.50" cy="435.50" r="3.55" fill="#377eb8"/>
<rect x="661.50" y="324.50" width="509.00" height="243.00" fill="none" stroke="#222222" stroke-width="1.15"/>
<line x1="661.50" y1="567.50" x2="661.50" y2="574.90" stroke="#222222" stroke-width="1.15" stroke-linecap="butt"/>
<text x="639.19" y="590.90" font-size="14.53" textLength="43.90" lengthAdjust="spacingAndGlyphs" fill="#262626">22Mar</text>
<text x="649.07" y="606.90" font-size="14.53" textLength="24.82" lengthAdjust="spacingAndGlyphs" fill="#262626">00z</text>
<line x1="674.50" y1="567.50" x2="674.50" y2="571.40" stroke="#222222" stroke-width="0.85" stroke-linecap="butt"/>
<line x1="686.50" y1="567.50" x2="686.50" y2="571.40" stroke="#222222" stroke-width="0.85" stroke-linecap="butt"/>
<line x1="699.50" y1="567.50" x2="699.50" y2="571.40" stroke="#222222" stroke-width="0.85" stroke-linecap="butt"/>
<line x1="712.50" y1="567.50" x2="712.50" y2="574.90" stroke="#222222" stroke-width="1.15" stroke-linecap="butt"/>
<text x="690.09" y="590.90" font-size="14.53" textLength="43.90" lengthAdjust="spacingAndGlyphs" fill="#262626">23Mar</text>
<text x="699.97" y="606.90" font-size="14.53" textLength="24.82" lengthAdjust="spacingAndGlyphs" fill="#262626">00z</text>
<line x1="725.50" y1="567.50" x2="725.50" y2="571.40" stroke="#222222" stroke-width="0.85" stroke-linecap="butt"/>
<line x1="737.50" y1="567.50" x2="737.50" y2="571.40" stroke="#222222" stroke-width="0.85" stroke-linecap="butt"/>
<line x1="750.50" y1="567.50" x2="750.50" y2="571.40" stroke="#222222" stroke-width="0.85" stroke-linecap="butt"/>
<line x1="763.50" y1="567.50" x2="763.50" y2="574.90" stroke="#222222" stroke-width="1.15" stroke-linecap="butt"/>
<text x="740.99" y="590.90" font-size="14.53" textLength="43.90" lengthAdjust="spacingAndGlyphs" fill="#262626">24Mar</text>
<text x="750.87" y="606.90" font-size="14.53" textLength="24.82" lengthAdjust="spacingAndGlyphs" fill="#262626">00z</text>
<line x1="776.50" y1="567.50" x2="776.50" y2="571.40" stroke="#222222" stroke-width="0.85" stroke-linecap="butt"/>
<line x1="788.50" y1="567.50" x2="788.50" y2="571.40" stroke="#222222" stroke-width="0.85" stroke-linecap="butt"/>
<line x1="801.50" y1="567.50" x2="801.50" y2="571.40" stroke="#222222" stroke-width="0.85" stroke-linecap="butt"/>
<line x1="814.50" y1="567.50" x2="814.50" y2="574.90" stroke="#222222" stroke-width="1.15" stroke-linecap="butt"/>
<text x="791.89" y="590.90" font-size="14.53" textLength="43.90" lengthAdjust="spacingAndGlyphs" fill="#262626">25Mar</text>
<text x="801.77" y="606.90" font-size="14.53" textLength="24.82" lengthAdjust="spacingAndGlyphs" fill="#262626">00z</text>
<line x1="826.50" y1="567.50" x2="826.50" y2="571.40" stroke="#222222" stroke-width="0.85" stroke-linecap="butt"/>
<line x1="839.50" y1="567.50" x2="839.50" y2="571.40" stroke="#222222" stroke-width="0.85" stroke-linecap="butt"/>
<line x1="852.50" y1="567.50" x2="852.50" y2="571.40" stroke="#222222" stroke-width="0.85" stroke-linecap="butt"/>
<line x1="865.50" y1="567.50" x2="865.50" y2="574.90" stroke="#222222" stroke-width="1.15" stroke-linecap="butt"/>
<text x="842.79" y="590.90" font-size="14.53" textLength="43.90" lengthAdjust="spacingAndGlyphs" fill="#262626">26Mar</text>
<text x="852.67" y="606.90" font-size="14.53" textLength="24.82" lengthAdjust="spacingAndGlyphs" fill="#262626">00z</text>
<line x1="877.50" y1="567.50" x2="877.50" y2="571.40" stroke="#222222" stroke-width="0.85" stroke-linecap="butt"/>
<line x1="890.50" y1="567.50" x2="890.50" y2="571.40" stroke="#222222" stroke-width="0.85" stroke-linecap="butt"/>
<line x1="903.50" y1="567.50" x2="903.50" y2="571.40" stroke="#222222" stroke-width="0.85" stroke-linecap="butt"/>
<line x1="915.50" y1="567.50" x2="915.50" y2="574.90" stroke="#222222" stroke-width="1.15" stroke-linecap="butt"/>
<text x="893.69" y="590.90" font-size="14.53" textLength="43.90" lengthAdjust="spacingAndGlyphs" fill="#262626">27Mar</text>
<text x="903.57" y="606.90" font-size="14.53" textLength="24.82" lengthAdjust="spacingAndGlyphs" fill="#262626">00z</text>
<line x1="928.50" y1="567.50" x2="928.50" y2="571.40" stroke="#222222" stroke-width="0.85" stroke-linecap="butt"/>
<line x1="941.50" y1="567.50" x2="941.50" y2="571.40" stroke="#222222" stroke-width="0.85" stroke-linecap="butt"/>
<line x1="954.50" y1="567.50" x2="954.50" y2="571.40" stroke="#222222" stroke-width="0.85" stroke-linecap="butt"/>
<line x1="966.50" y1="567.50" x2="966.50" y2="574.90" stroke="#222222" stroke-width="1.15" stroke-linecap="butt"/>
<text x="944.59" y="590.90" font-size="14.53" textLength="43.90" lengthAdjust="spacingAndGlyphs" fill="#262626">28Mar</text>
<text x="954.47" y="606.90" font-size="14.53" textLength="24.82" lengthAdjust="spacingAndGlyphs" fill="#262626">00z</text>
<line x1="979.50" y1="567.50" x2="979.50" y2="571.40" stroke="#222222" stroke-width="0.85" stroke-linecap="butt"/>
<line x1="992.50" y1="567.50" x2="992.50" y2="571.40" stroke="#222222" stroke-width="0.85" stroke-linecap="butt"/>
<line x1="1005.50" y1="567.50" x2="1005.50" y2="571.40" stroke="#222222" stroke-width="0.85" stroke-linecap="butt"/>
<line x1="1017.50" y1="567.50" x2="1017.50" y2="574.90" stroke="#222222" stroke-width="1.15" stroke-linecap="butt"/>
<text x="995.49" y="590.90" font-size="14.53" textLength="43.90" lengthAdjust="spacingAndGlyphs" fill="#262626">29Mar</text>
<text x="1005.37" y="606.90" font-size="14.53" textLength="24.82" lengthAdjust="spacingAndGlyphs" fill="#262626">00z</text>
<line x1="1030.50" y1="567.50" x2="1030.50" y2="571.40" stroke="#222222" stroke-width="0.85" stroke-linecap="butt"/>
<line x1="1043.50" y1="567.50" x2="1043.50" y2="571.40" stroke="#222222" stroke-width="0.85" stroke-linecap="butt"/>
<line x1="1055.50" y1="567.50" x2="1055.50" y2="571.40" stroke="#222222" stroke-width="0.85" stroke-linecap="butt"/>
<line x1="1068.50" y1="567.50" x2="1068.50" y2="574.90" stroke="#222222" stroke-width="1.15" stroke-linecap="butt"/>
<text x="1046.60" y="590.90" font-size="14.53" textLength="43.67" lengthAdjust="spacingAndGlyphs" fill="#262626">30Mar</text>
<text x="1056.27" y="606.90" font-size="14.53" textLength="24.82" lengthAdjust="spacingAndGlyphs" fill="#262626">00z</text>
<line x1="1081.50" y1="567.50" x2="1081.50" y2="571.40" stroke="#222222" stroke-width="0.85" stroke-linecap="butt"/>
<line x1="1094.50" y1="567.50" x2="1094.50" y2="571.40" stroke="#222222" stroke-width="0.85" stroke-linecap="butt"/>
<line x1="1106.50" y1="567.50" x2="1106.50" y2="571.40" stroke="#222222" stroke-width="0.85" stroke-linecap="butt"/>
<line x1="1119.50" y1="567.50" x2="1119.50" y2="574.90" stroke="#222222" stroke-width="1.15" stroke-linecap="butt"/>
<text x="1097.50" y="590.90" font-size="14.53" textLength="43.67" lengthAdjust="spacingAndGlyphs" fill="#262626">31Mar</text>
<text x="1107.17" y="606.90" font-size="14.53" textLength="24.82" lengthAdjust="spacingAndGlyphs" fill="#262626">00z</text>
<line x1="1132.50" y1="567.50" x2="1132.50" y2="571.40" stroke="#222222" stroke-width="0.85" stroke-linecap="butt"/>
<line x1="1145.50" y1="567.50" x2="1145.50" y2="571.40" stroke="#222222" stroke-width="0.85" stroke-linecap="butt"/>
<line x1="1157.50" y1="567.50" x2="1157.50" y2="571.40" stroke="#222222" stroke-width="0.85" stroke-linecap="butt"/>
<line x1="1170.50" y1="567.50" x2="1170.50" y2="574.90" stroke="#222222" stroke-width="1.15" stroke-linecap="butt"/>
<text x="1149.40" y="590.90" font-size="14.53" textLength="41.66" lengthAdjust="spacingAndGlyphs" fill="#262626">01Apr</text>
<text x="1158.07" y="606.90" font-size="14.53" textLength="24.82" lengthAdjust="spacingAndGlyphs" fill="#262626">00z</text>
<line x1="657.60" y1="567.50" x2="661.50" y2="567.50" stroke="#222222" stroke-width="0.85" stroke-linecap="butt"/>
<line x1="657.60" y1="556.50" x2="661.50" y2="556.50" stroke="#222222" stroke-width="0.85" stroke-linecap="butt"/>
<line x1="657.60" y1="544.50" x2="661.50" y2="544.50" stroke="#222222" stroke-width="0.85" stroke-linecap="butt"/>
<line x1="657.60" y1="533.50" x2="661.50" y2="533.50" stroke="#222222" stroke-width="0.85" stroke-linecap="butt"/>
<line x1="657.60" y1="521.50" x2="661.50" y2="521.50" stroke="#222222" stroke-width="0.85" stroke-linecap="butt"/>
<line x1="657.60" y1="509.50" x2="661.50" y2="509.50" stroke="#222222" stroke-width="0.85" stroke-linecap="butt"/>
<line x1="657.60" y1="498.50" x2="661.50" y2="498.50" stroke="#222222" stroke-width="0.85" stroke-linecap="butt"/>
<line x1="657.60" y1="486.50" x2="661.50" y2="486.50" stroke="#222222" stroke-width="0.85" stroke-linecap="butt"/>
<line x1="657.60" y1="475.50" x2="661.50" y2="475.50" stroke="#222222" stroke-width="0.85" stroke-linecap="butt"/>
<line x1="657.60" y1="463.50" x2="661.50" y2="463.50" stroke="#222222" stroke-width="0.85" stroke-linecap="butt"/>
<line x1="657.60" y1="451.50" x2="661.50" y2="451.50" stroke="#222222" stroke-width="0.85" stroke-linecap="butt"/>
<line x1="657.60" y1="440.50" x2="661.50" y2="440.50" stroke="#222222" stroke-width="0.85" stroke-linecap="butt"/>
<line x1="657.60" y1="428.50" x2="661.50" y2="428.50" stroke="#222222" stroke-width="0.85" stroke-linecap="butt"/>
<line x1="657.60" y1="416.50" x2="661.50" y2="416.50" stroke="#222222" stroke-width="0.85" stroke-linecap="butt"/>
<line x1="657.60" y1="405.50" x2="661.50" y2="405.50" stroke="#222222" stroke-width="0.85" stroke-linecap="butt"/>
<line x1="657.60" y1="393.50" x2="661.50" y2="393.50" stroke="#222222" stroke-width="0.85" stroke-linecap="butt"/>
<line x1="657.60" y1="382.50" x2="661.50" y2="382.50" stroke="#222222" stroke-width="0.85" stroke-linecap="butt"/>
<line x1="657.60" y1="370.50" x2="661.50" y2="370.50" stroke="#222222" stroke-width="0.85" stroke-linecap="butt"/>
<line x1="657.60" y1="358.50" x2="661.50" y2="358.50" stroke="#222222" stroke-width="0.85" stroke-linecap="butt"/>
<line x1="657.60" y1="347.50" x2="661.50" y2="347.50" stroke="#222222" stroke-width="0.85" stroke-linecap="butt"/>
<line x1="657.60" y1="335.50" x2="661.50" y2="335.50" stroke="#222222" stroke-width="0.85" stroke-linecap="butt"/>
<line x1="657.60" y1="324.50" x2="661.50" y2="324.50" stroke="#222222" stroke-width="0.85" stroke-linecap="butt"/>
<line x1="654.10" y1="567.50" x2="661.50" y2="567.50" stroke="#222222" stroke-width="1.15" stroke-linecap="butt"/>
<text x="631.89" y="571.35" font-size="14.53" textLength="16.45" lengthAdjust="spacingAndGlyphs" fill="#262626">22</text>
<line x1="654.10" y1="521.50" x2="661.50" y2="521.50" stroke="#222222" stroke-width="1.15" stroke-linecap="butt"/>
<text x="631.28" y="524.93" font-size="14.53" textLength="16.76" lengthAdjust="spacingAndGlyphs" fill="#262626">24</text>
<line x1="654.10" y1="475.50" x2="661.50" y2="475.50" stroke="#222222" stroke-width="1.15" stroke-linecap="butt"/>
<text x="631.37" y="478.51" font-size="14.53" textLength="16.90" lengthAdjust="spacingAndGlyphs" fill="#262626">26</text>
<line x1="654.10" y1="428.50" x2="661.50" y2="428.50" stroke="#222222" stroke-width="1.15" stroke-linecap="butt"/>
<text x="631.45" y="432.09" font-size="14.53" textLength="16.81" lengthAdjust="spacingAndGlyphs" fill="#262626">28</text>
<line x1="654.10" y1="382.50" x2="661.50" y2="382.50" stroke="#222222" stroke-width="1.15" stroke-linecap="butt"/>
<text x="631.65" y="385.67" font-size="14.53" textLength="16.53" lengthAdjust="spacingAndGlyphs" fill="#262626">30</text>
<line x1="654.10" y1="335.50" x2="661.50" y2="335.50" stroke="#222222" stroke-width="1.15" stroke-linecap="butt"/>
<text x="632.12" y="339.25" font-size="14.53" textLength="16.21" lengthAdjust="spacingAndGlyphs" fill="#262626">32</text>
<line x1="673.00" y1="338.50" x2="695.00" y2="338.50" stroke="#e41a1c" stroke-width="3.0" stroke-linecap="butt"/>
<text x="708.82" y="342.75" font-size="14.17" textLength="26.38" lengthAdjust="spacingAndGlyphs" fill="#262626">GFS</text>
<line x1="673.00" y1="353.50" x2="695.00" y2="353.50" stroke="#377eb8" stroke-width="3.0" stroke-linecap="butt"/>
<text x="708.93" y="357.75" font-size="14.17" textLength="40.32" lengthAdjust="spacingAndGlyphs" fill="#262626">HWRF</text>
<text x="1130.25" y="340.75" font-size="17.44" textLength="34.04" lengthAdjust="spacingAndGlyphs" fill="#262626" font-weight="bold">SST</text>
<text transform="translate(620.50 446.00) rotate(-90)" x="-93.48" y="0" font-size="17.44" textLength="187.27" lengthAdjust="spacingAndGlyphs" fill="#262626">Sea Surface Temp (°C)</text>
<clipPath id="c4"><rect x="661.50" y="611.50" width="509.00" height="244.00"/></clipPath>
<rect x="661.50" y="733.05" width="509.00" height="61.80" fill="#cccccc"/>
<rect x="661.50" y="611.50" width="509.00" height="61.20" fill="#cccccc"/>
<line x1="903.50" y1="611.50" x2="903.50" y2="855.50" stroke="#e41a1c" stroke-width="1.4" stroke-linecap="butt"/>
<line x1="903.50" y1="611.50" x2="903.50" y2="855.50" stroke="#377eb8" stroke-width="1.4" stroke-linecap="butt"/>
<polyline points="737.35,725.08 750.08,733.30 762.80,734.52 775.52,737.88 788.25,737.88 800.98,742.14 813.70,740.32 826.42,731.48 839.15,720.81 851.88,730.87 864.60,728.73 877.33,717.76 890.05,730.87 902.77,750.07 915.50,744.89 928.22,753.88 940.95,755.56 953.67,758.30 966.40,765.00 979.12,765.00 991.85,779.94 1004.58,778.72 1017.30,781.77 1030.03,795.79 1042.75,804.02 1055.47,805.24 1068.20,809.20 1080.92,813.16 1093.65,814.69 1106.38,809.96 1119.10,802.49 1131.83,797.47 1144.55,795.79 1157.28,787.56 1170.00,779.33" fill="none" stroke="#e41a1c" stroke-width="2.78" stroke-linejoin="round" stroke-linecap="square" clip-path="url(#c4)"/>
<polyline points="737.35,736.66 750.08,725.38 762.80,729.65 775.52,742.14 788.25,740.62 800.98,751.29 813.70,747.02 826.42,732.39 839.15,720.81 851.88,735.74 864.60,734.52 877.33,726.90 890.05,737.57 902.77,756.47 915.50,742.45 928.22,751.14 940.95,754.34 953.67,760.13 966.40,763.48 979.12,766.53 991.85,765.00 1004.58,774.15 1017.30,774.15 1030.03,785.88 1042.75,800.97 1055.47,802.49 1068.20,807.98 1080.92,809.96 1093.65,811.64 1106.38,805.24 1119.10,805.24 1131.83,802.49 1144.55,791.22 1157.28,784.21 1170.00,782.38" fill="none" stroke="#377eb8" stroke-width="2.78" stroke-linejoin="round" stroke-linecap="square" clip-path="url(#c4)"/>
<circle cx="903.50" cy="750.50" r="3.55" fill="#e41a1c"/>
<circle cx="903.50" cy="756.50" r="3.55" fill="#377eb8"/>
<rect x="661.50" y="611.50" width="509.00" height="244.00" fill="none" stroke="#222222" stroke-width="1.15"/>
<line x1="661.50" y1="855.50" x2="661.50" y2="862.90" stroke="#222222" stroke-width="1.15" stroke-linecap="butt"/>
<text x="639.19" y="879.30" font-size="14.53" textLength="43.90" lengthAdjust="spacingAndGlyphs" fill="#262626">22Mar</text>
<text x="649.07" y="895.30" font-size="14.53" textLength="24.82" lengthAdjust="spacingAndGlyphs" fill="#262626">00z</text>
<line x1="674.50" y1="855.50" x2="674.50" y2="859.40" stroke="#222222" stroke-width="0.85" stroke-linecap="butt"/>
<line x1="686.50" y1="855.50" x2="686.50" y2="859.40" stroke="#222222" stroke-width="0.85" stroke-linecap="butt"/>
<line x1="699.50" y1="855.50" x2="699.50" y2="859.40" stroke="#222222" stroke-width="0.85" stroke-linecap="butt"/>
<line x1="712.50" y1="855.50" x2="712.50" y2="862.90" stroke="#222222" stroke-width="1.15" stroke-linecap="butt"/>
<text x="690.09" y="879.30" font-size="14.53" textLength="43.90" lengthAdjust="spacingAndGlyphs" fill="#262626">23Mar</text>
<text x="699.97" y="895.30" font-size="14.53" textLength="24.82" lengthAdjust="spacingAndGlyphs" fill="#262626">00z</text>
<line x1="725.50" y1="855.50" x2="725.50" y2="859.40" stroke="#222222" stroke-width="0.85" stroke-linecap="butt"/>
<line x1="737.50" y1="855.50" x2="737.50" y2="859.40" stroke="#222222" stroke-width="0.85" stroke-linecap="butt"/>
<line x1="750.50" y1="855.50" x2="750.50" y2="859.40" stroke="#222222" stroke-width="0.85" stroke-linecap="butt"/>
<line x1="763.50" y1="855.50" x2="763.50" y2="862.90" stroke="#222222" stroke-width="1.15" stroke-linecap="butt"/>
<text x="740.99" y="879.30" font-size="14.53" textLength="43.90" lengthAdjust="spacingAndGlyphs" fill="#262626">24Mar</text>
<text x="750.87" y="895.30" font-size="14.53" textLength="24.82" lengthAdjust="spacingAndGlyphs" fill="#262626">00z</text>
<line x1="776.50" y1="855.50" x2="776.50" y2="859.40" stroke="#222222" stroke-width="0.85" stroke-linecap="butt"/>
<line x1="788.50" y1="855.50" x2="788.50" y2="859.40" stroke="#222222" stroke-width="0.85" stroke-linecap="butt"/>
<line x1="801.50" y1="855.50" x2="801.50" y2="859.40" stroke="#222222" stroke-width="0.85" stroke-linecap="butt"/>
<line x1="814.50" y1="855.50" x2="814.50" y2="862.90" stroke="#222222" stroke-width="1.15" stroke-linecap="butt"/>
<text x="791.89" y="879.30" font-size="14.53" textLength="43.90" lengthAdjust="spacingAndGlyphs" fill="#262626">25Mar</text>
<text x="801.77" y="895.30" font-size="14.53" textLength="24.82" lengthAdjust="spacingAndGlyphs" fill="#262626">00z</text>
<line x1="826.50" y1="855.50" x2="826.50" y2="859.40" stroke="#222222" stroke-width="0.85" stroke-linecap="butt"/>
<line x1="839.50" y1="855.50" x2="839.50" y2="859.40" stroke="#222222" stroke-width="0.85" stroke-linecap="butt"/>
<line x1="852.50" y1="855.50" x2="852.50" y2="859.40" stroke="#222222" stroke-width="0.85" stroke-linecap="butt"/>
<line x1="865.50" y1="855.50" x2="865.50" y2="862.90" stroke="#222222" stroke-width="1.15" stroke-linecap="butt"/>
<text x="842.79" y="879.30" font-size="14.53" textLength="43.90" lengthAdjust="spacingAndGlyphs" fill="#262626">26Mar</text>
<text x="852.67" y="895.30" font-size="14.53" textLength="24.82" lengthAdjust="spacingAndGlyphs" fill="#262626">00z</text>
<line x1="877.50" y1="855.50" x2="877.50" y2="859.40" stroke="#222222" stroke-width="0.85" stroke-linecap="butt"/>
<line x1="890.50" y1="855.50" x2="890.50" y2="859.40" stroke="#222222" stroke-width="0.85" stroke-linecap="butt"/>
<line x1="903.50" y1="855.50" x2="903.50" y2="859.40" stroke="#222222" stroke-width="0.85" stroke-linecap="butt"/>
<line x1="915.50" y1="855.50" x2="915.50" y2="862.90" stroke="#222222" stroke-width="1.15" stroke-linecap="butt"/>
<text x="893.69" y="879.30" font-size="14.53" textLength="43.90" lengthAdjust="spacingAndGlyphs" fill="#262626">27Mar</text>
<text x="903.57" y="895.30" font-size="14.53" textLength="24.82" lengthAdjust="spacingAndGlyphs" fill="#262626">00z</text>
<line x1="928.50" y1="855.50" x2="928.50" y2="859.40" stroke="#222222" stroke-width="0.85" stroke-linecap="butt"/>
<line x1="941.50" y1="855.50" x2="941.50" y2="859.40" stroke="#222222" stroke-width="0.85" stroke-linecap="butt"/>
<line x1="954.50" y1="855.50" x2="954.50" y2="859.40" stroke="#222222" stroke-width="0.85" stroke-linecap="butt"/>
<line x1="966.50" y1="855.50" x2="966.50" y2="862.90" stroke="#222222" stroke-width="1.15" stroke-linecap="butt"/>
<text x="944.59" y="879.30" font-size="14.53" textLength="43.90" lengthAdjust="spacingAndGlyphs" fill="#262626">28Mar</text>
<text x="954.47" y="895.30" font-size="14.53" textLength="24.82" lengthAdjust="spacingAndGlyphs" fill="#262626">00z</text>
<line x1="979.50" y1="855.50" x2="979.50" y2="859.40" stroke="#222222" stroke-width="0.85" stroke-linecap="butt"/>
<line x1="992.50" y1="855.50" x2="992.50" y2="859.40" stroke="#222222" stroke-width="0.85" stroke-linecap="butt"/>
<line x1="1005.50" y1="855.50" x2="1005.50" y2="859.40" stroke="#222222" stroke-width="0.85" stroke-linecap="butt"/>
<line x1="1017.50" y1="855.50" x2="1017.50" y2="862.90" stroke="#222222" stroke-width="1.15" stroke-linecap="butt"/>
<text x="995.49" y="879.30" font-size="14.53" textLength="43.90" lengthAdjust="spacingAndGlyphs" fill="#262626">29Mar</text>
<text x="1005.37" y="895.30" font-size="14.53" textLength="24.82" lengthAdjust="spacingAndGlyphs" fill="#262626">00z</text>
<line x1="1030.50" y1="855.50" x2="1030.50" y2="859.40" stroke="#222222" stroke-width="0.85" stroke-linecap="butt"/>
<line x1="1043.50" y1="855.50" x2="1043.50" y2="859.40" stroke="#222222" stroke-width="0.85" stroke-linecap="butt"/>
<line x1="1055.50" y1="855.50" x2="1055.50" y2="859.40" stroke="#222222" stroke-width="0.85" stroke-linecap="butt"/>
<line x1="1068.50" y1="855.50" x2="1068.50" y2="862.90" stroke="#222222" stroke-width="1.15" stroke-linecap="butt"/>
<text x="1046.60" y="879.30" font-size="14.53" textLength="43.67" lengthAdjust="spacingAndGlyphs" fill="#262626">30Mar</text>
<text x="1056.27" y="895.30" font-size="14.53" textLength="24.82" lengthAdjust="spacingAndGlyphs" fill="#262626">00z</text>
<line x1="1081.50" y1="855.50" x2="1081.50" y2="859.40" stroke="#222222" stroke-width="0.85" stroke-linecap="butt"/>
<line x1="1094.50" y1="855.50" x2="1094.50" y2="859.40" stroke="#222222" stroke-width="0.85" stroke-linecap="butt"/>
<line x1="1106.50" y1="855.50" x2="1106.50" y2="859.40" stroke="#222222" stroke-width="0.85" stroke-linecap="butt"/>
<line x1="1119.50" y1="855.50" x2="1119.50" y2="862.90" stroke="#222222" stroke-width="1.15" stroke-linecap="butt"/>
<text x="1097.50" y="879.30" font-size="14.53" textLength="43.67" lengthAdjust="spacingAndGlyphs" fill="#262626">31Mar</text>
<text x="1107.17" y="895.30" font-size="14.53" textLength="24.82" lengthAdjust="spacingAndGlyphs" fill="#262626">00z</text>
<line x1="1132.50" y1="855.50" x2="1132.50" y2="859.40" stroke="#222222" stroke-width="0.85" stroke-linecap="butt"/>
<line x1="1145.50" y1="855.50" x2="1145.50" y2="859.40" stroke="#222222" stroke-width="0.85" stroke-linecap="butt"/>
<line x1="1157.50" y1="855.50" x2="1157.50" y2="859.40" stroke="#222222" stroke-width="0.85" stroke-linecap="butt"/>
<line x1="1170.50" y1="855.50" x2="1170.50" y2="862.90" stroke="#222222" stroke-width="1.15" stroke-linecap="butt"/>
<text x="1149.40" y="879.30" font-size="14.53" textLength="41.66" lengthAdjust="spacingAndGlyphs" fill="#262626">01Apr</text>
<text x="1158.07" y="895.30" font-size="14.53" textLength="24.82" lengthAdjust="spacingAndGlyphs" fill="#262626">00z</text>
<line x1="657.60" y1="855.50" x2="661.50" y2="855.50" stroke="#222222" stroke-width="0.85" stroke-linecap="butt"/>
<line x1="657.60" y1="840.50" x2="661.50" y2="840.50" stroke="#222222" stroke-width="0.85" stroke-linecap="butt"/>
<line x1="657.60" y1="824.50" x2="661.50" y2="824.50" stroke="#222222" stroke-width="0.85" stroke-linecap="butt"/>
<line x1="657.60" y1="809.50" x2="661.50" y2="809.50" stroke="#222222" stroke-width="0.85" stroke-linecap="butt"/>
<line x1="657.60" y1="794.50" x2="661.50" y2="794.50" stroke="#222222" stroke-width="0.85" stroke-linecap="butt"/>
<line x1="657.60" y1="779.50" x2="661.50" y2="779.50" stroke="#222222" stroke-width="0.85" stroke-linecap="butt"/>
<line x1="657.60" y1="764.50" x2="661.50" y2="764.50" stroke="#222222" stroke-width="0.85" stroke-linecap="butt"/>
<line x1="657.60" y1="748.50" x2="661.50" y2="748.50" stroke="#222222" stroke-width="0.85" stroke-linecap="butt"/>
<line x1="657.60" y1="733.50" x2="661.50" y2="733.50" stroke="#222222" stroke-width="0.85" stroke-linecap="butt"/>
<line x1="657.60" y1="718.50" x2="661.50" y2="718.50" stroke="#222222" stroke-width="0.85" stroke-linecap="butt"/>
<line x1="657.60" y1="703.50" x2="661.50" y2="703.50" stroke="#222222" stroke-width="0.85" stroke-linecap="butt"/>
<line x1="657.60" y1="687.50" x2="661.50" y2="687.50" stroke="#222222" stroke-width="0.85" stroke-linecap="butt"/>
<line x1="657.60" y1="672.50" x2="661.50" y2="672.50" stroke="#222222" stroke-width="0.85" stroke-linecap="butt"/>
<line x1="657.60" y1="657.50" x2="661.50" y2="657.50" stroke="#222222" stroke-width="0.85" stroke-linecap="butt"/>
<line x1="657.60" y1="642.50" x2="661.50" y2="642.50" stroke="#222222" stroke-width="0.85" stroke-linecap="butt"/>
<line x1="657.60" y1="626.50" x2="661.50" y2="626.50" stroke="#222222" stroke-width="0.85" stroke-linecap="butt"/>
<line x1="657.60" y1="611.50" x2="661.50" y2="611.50" stroke="#222222" stroke-width="0.85" stroke-linecap="butt"/>
<line x1="654.10" y1="855.50" x2="661.50" y2="855.50" stroke="#222222" stroke-width="1.15" stroke-linecap="butt"/>
<text x="631.42" y="858.95" font-size="14.53" textLength="16.77" lengthAdjust="spacingAndGlyphs" fill="#262626">20</text>
<line x1="654.10" y1="794.50" x2="661.50" y2="794.50" stroke="#222222" stroke-width="1.15" stroke-linecap="butt"/>
<text x="631.50" y="798.01" font-size="14.53" textLength="16.68" lengthAdjust="spacingAndGlyphs" fill="#262626">40</text>
<line x1="654.10" y1="733.50" x2="661.50" y2="733.50" stroke="#222222" stroke-width="1.15" stroke-linecap="butt"/>
<text x="631.37" y="737.07" font-size="14.53" textLength="16.83" lengthAdjust="spacingAndGlyphs" fill="#262626">60</text>
<line x1="654.10" y1="672.50" x2="661.50" y2="672.50" stroke="#222222" stroke-width="1.15" stroke-linecap="butt"/>
<text x="631.45" y="676.13" font-size="14.53" textLength="16.73" lengthAdjust="spacingAndGlyphs" fill="#262626">80</text>
<line x1="654.10" y1="611.50" x2="661.50" y2="611.50" stroke="#222222" stroke-width="1.15" stroke-linecap="butt"/>
<text x="622.86" y="615.19" font-size="14.53" textLength="25.33" lengthAdjust="spacingAndGlyphs" fill="#262626">100</text>
<line x1="673.00" y1="823.50" x2="695.00" y2="823.50" stroke="#e41a1c" stroke-width="3.0" stroke-linecap="butt"/>
<text x="708.82" y="827.70" font-size="14.17" textLength="26.38" lengthAdjust="spacingAndGlyphs" fill="#262626">GFS</text>
<line x1="673.00" y1="839.50" x2="695.00" y2="839.50" stroke="#377eb8" stroke-width="3.0" stroke-linecap="butt"/>
<text x="708.93" y="843.75" font-size="14.17" textLength="40.32" lengthAdjust="spacingAndGlyphs" fill="#262626">HWRF</text>
<text x="1042.60" y="627.90" font-size="17.44" textLength="123.11" lengthAdjust="spacingAndGlyphs" fill="#262626" font-weight="bold">Mid-Level RH</text>
<text transform="translate(620.50 733.70) rotate(-90)" x="-109.59" y="0" font-size="17.44" textLength="219.38" lengthAdjust="spacingAndGlyphs" fill="#262626">700-500 hPa Humidity (%)</text>
<rect x="66.5" y="335.5" width="509.00" height="509.00" fill="none" stroke="#222222" stroke-width="1.15"/>
<polyline points="369.20,353.30 335.80,362.70 313.30,386.50 287.50,395.80 262.30,399.60 252.50,393.30 236.30,391.30 221.30,390.20 208.30,393.30 195.80,395.80 183.30,404.40 172.30,408.30 165.40,409.40 161.80,419.50 158.30,429.60 157.10,443.30 160.20,460.60 169.20,478.80 191.50,505.40 198.00,536.00 221.40,566.40" fill="none" stroke="#222222" stroke-width="2.78" stroke-linejoin="round" stroke-linecap="butt" />
<circle cx="369.50" cy="353.50" r="3.7" fill="#222222"/>
<circle cx="313.50" cy="386.50" r="3.05" fill="#ffffff" stroke="#222222" stroke-width="1.1"/>
<circle cx="262.50" cy="399.50" r="3.7" fill="#222222"/>
<circle cx="236.50" cy="391.50" r="3.05" fill="#ffffff" stroke="#222222" stroke-width="1.1"/>
<circle cx="208.50" cy="393.50" r="3.7" fill="#222222"/>
<circle cx="183.50" cy="404.50" r="3.05" fill="#ffffff" stroke="#222222" stroke-width="1.1"/>
<circle cx="165.50" cy="409.50" r="3.7" fill="#222222"/>
<circle cx="158.50" cy="429.50" r="3.05" fill="#ffffff" stroke="#222222" stroke-width="1.1"/>
<circle cx="160.50" cy="460.50" r="3.7" fill="#222222"/>
<circle cx="191.50" cy="505.50" r="3.05" fill="#ffffff" stroke="#222222" stroke-width="1.1"/>
<polyline points="217.00,536.40 231.40,561.40 256.40,583.60 290.20,599.50 323.50,612.80 356.00,627.20 377.90,636.80 397.40,648.40 399.70,645.10 394.40,633.40 396.80,620.40 399.20,607.50 396.80,593.80 387.40,589.40 354.70,576.30 348.20,574.50 335.70,566.20 323.30,559.40 315.80,554.50 308.40,549.60 296.60,543.20" fill="none" stroke="#e41a1c" stroke-width="2.78" stroke-linejoin="round" stroke-linecap="butt" />
<circle cx="216.50" cy="536.50" r="3.9" fill="#e41a1c"/>
<circle cx="231.50" cy="561.50" r="3.7" fill="#222222"/>
<circle cx="290.50" cy="599.50" r="3.05" fill="#ffffff" stroke="#222222" stroke-width="1.1"/>
<circle cx="356.50" cy="627.50" r="3.7" fill="#222222"/>
<circle cx="397.50" cy="648.50" r="3.05" fill="#ffffff" stroke="#222222" stroke-width="1.1"/>
<circle cx="394.50" cy="633.50" r="3.7" fill="#222222"/>
<circle cx="399.50" cy="607.50" r="3.05" fill="#ffffff" stroke="#222222" stroke-width="1.1"/>
<circle cx="387.50" cy="589.50" r="3.7" fill="#222222"/>
<circle cx="348.50" cy="574.50" r="3.05" fill="#ffffff" stroke="#222222" stroke-width="1.1"/>
<circle cx="323.50" cy="559.50" r="3.7" fill="#222222"/>
<circle cx="308.50" cy="549.50" r="3.05" fill="#ffffff" stroke="#222222" stroke-width="1.1"/>
<polyline points="206.60,531.60 234.40,554.40 256.60,578.80 292.30,594.50 328.30,614.00 356.00,626.60 384.00,634.60 412.40,643.50 416.80,634.40 435.50,633.40 426.40,627.00 417.40,620.40 396.20,601.30 376.40,592.50 358.30,581.50 338.50,561.50 323.50,545.80 310.40,536.40 302.90,530.70 290.60,531.30 263.30,530.70" fill="none" stroke="#377eb8" stroke-width="2.78" stroke-linejoin="round" stroke-linecap="butt" />
<circle cx="206.50" cy="531.50" r="3.9" fill="#377eb8"/>
<circle cx="234.50" cy="554.50" r="3.7" fill="#222222"/>
<circle cx="292.50" cy="594.50" r="3.05" fill="#ffffff" stroke="#222222" stroke-width="1.1"/>
<circle cx="356.50" cy="626.50" r="3.7" fill="#222222"/>
<circle cx="412.50" cy="643.50" r="3.05" fill="#ffffff" stroke="#222222" stroke-width="1.1"/>
<circle cx="435.50" cy="633.50" r="3.7" fill="#222222"/>
<circle cx="417.50" cy="620.50" r="3.05" fill="#ffffff" stroke="#222222" stroke-width="1.1"/>
<circle cx="376.50" cy="592.50" r="3.7" fill="#222222"/>
<circle cx="338.50" cy="561.50" r="3.05" fill="#ffffff" stroke="#222222" stroke-width="1.1"/>
<circle cx="310.50" cy="536.50" r="3.7" fill="#222222"/>
<circle cx="290.50" cy="531.50" r="3.05" fill="#ffffff" stroke="#222222" stroke-width="1.1"/>
<polyline points="221.40,566.40 270.40,607.50 320.40,627.30 356.40,630.40 376.30,622.50 389.40,597.30 381.50,566.30" fill="none" stroke="#777777" stroke-width="2.78" stroke-linejoin="round" stroke-linecap="butt" />
<circle cx="221.50" cy="566.50" r="3.9" fill="#777777"/>
<circle cx="270.50" cy="607.50" r="3.05" fill="#ffffff" stroke="#222222" stroke-width="1.1"/>
<circle cx="320.50" cy="627.50" r="3.7" fill="#222222"/>
<circle cx="356.50" cy="630.50" r="3.05" fill="#ffffff" stroke="#222222" stroke-width="1.1"/>
<circle cx="376.50" cy="622.50" r="3.7" fill="#222222"/>
<circle cx="389.50" cy="597.50" r="3.7" fill="#222222"/>
<circle cx="381.50" cy="566.50" r="3.7" fill="#222222"/>
<line x1="77.00" y1="349.50" x2="100.00" y2="349.50" stroke="#222222" stroke-width="3.0" stroke-linecap="butt"/>
<text x="113.94" y="353.70" font-size="14.17" textLength="34.85" lengthAdjust="spacingAndGlyphs" fill="#262626">BEST</text>
<line x1="77.00" y1="365.50" x2="100.00" y2="365.50" stroke="#e41a1c" stroke-width="3.0" stroke-linecap="butt"/>
<text x="113.82" y="369.60" font-size="14.17" textLength="26.38" lengthAdjust="spacingAndGlyphs" fill="#262626">GFS</text>
<line x1="77.00" y1="380.50" x2="100.00" y2="380.50" stroke="#377eb8" stroke-width="3.0" stroke-linecap="butt"/>
<text x="113.93" y="384.70" font-size="14.17" textLength="40.32" lengthAdjust="spacingAndGlyphs" fill="#262626">HWRF</text>
<line x1="77.00" y1="396.50" x2="100.00" y2="396.50" stroke="#777777" stroke-width="3.0" stroke-linecap="butt"/>
<text x="112.80" y="399.70" font-size="14.17" textLength="35.79" lengthAdjust="spacingAndGlyphs" fill="#262626">JTWC</text>
<text x="517.97" y="354.80" font-size="17.44" textLength="50.41" lengthAdjust="spacingAndGlyphs" fill="#262626" font-weight="bold">Track</text>
<text x="28.10" y="453.05" font-size="14.53" textLength="32.59" lengthAdjust="spacingAndGlyphs" fill="#000000">15°S</text>
<text x="27.98" y="579.95" font-size="14.53" textLength="32.71" lengthAdjust="spacingAndGlyphs" fill="#000000">20°S</text>
<text x="27.98" y="706.95" font-size="14.53" textLength="32.71" lengthAdjust="spacingAndGlyphs" fill="#000000">25°S</text>
<text x="28.21" y="834.05" font-size="14.53" textLength="32.48" lengthAdjust="spacingAndGlyphs" fill="#000000">30°S</text>
<text x="54.93" y="870.80" font-size="14.53" textLength="32.52" lengthAdjust="spacingAndGlyphs" fill="#000000">70°E</text>
<text x="182.13" y="870.80" font-size="14.53" textLength="32.52" lengthAdjust="spacingAndGlyphs" fill="#000000">75°E</text>
<text x="309.34" y="870.80" font-size="14.53" textLength="32.61" lengthAdjust="spacingAndGlyphs" fill="#000000">80°E</text>
<text x="436.54" y="870.80" font-size="14.53" textLength="32.61" lengthAdjust="spacingAndGlyphs" fill="#000000">85°E</text>
</svg>
</body></html>
